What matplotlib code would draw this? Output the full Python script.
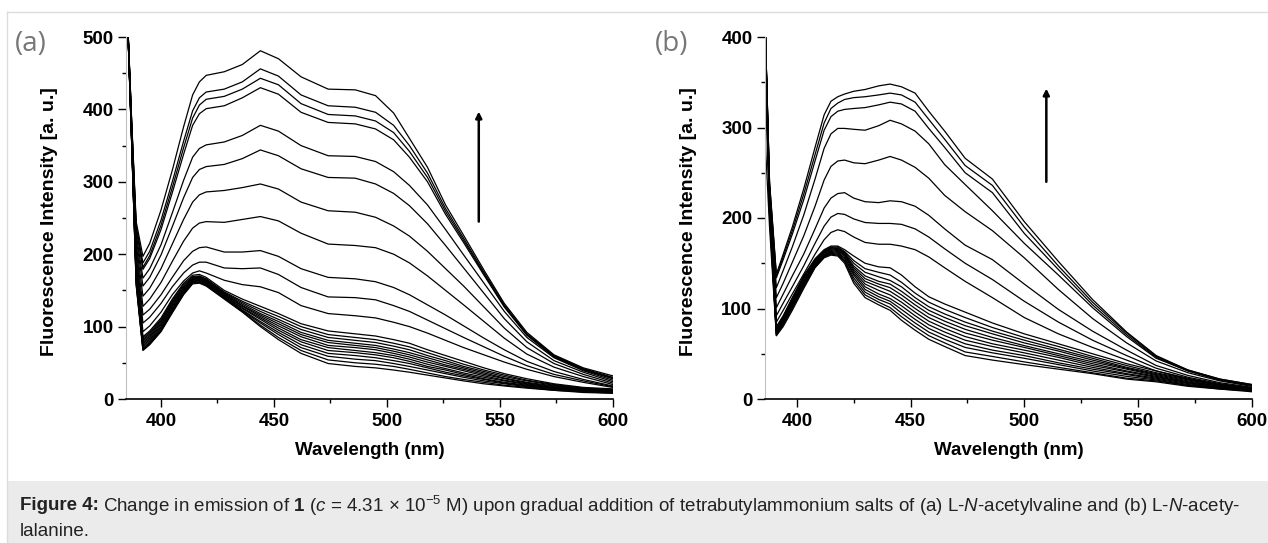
import matplotlib.pyplot as plt
from matplotlib.lines import Line2D
from matplotlib.patches import Rectangle

plt.rcParams['font.family'] = ['Liberation Sans', 'DejaVu Sans']
plt.rcParams['mathtext.fontset'] = 'custom'
plt.rcParams['mathtext.rm'] = 'Liberation Sans'
plt.rcParams['mathtext.it'] = 'Liberation Sans:italic'
plt.rcParams['mathtext.bf'] = 'Liberation Sans:bold'

# panel (a): L-N-acetylvaline
wl_a = [385, 387, 389, 392, 395, 400, 405, 410, 414, 417, 420, 428, 436, 444, 452,
        462, 474, 486, 495, 503, 510, 518, 526, 534, 543, 552, 562, 574, 587, 600]
a_upper = [
    [540, 385, 245, 197, 215, 261, 316, 376, 420, 438, 447, 452, 462, 481, 470, 445, 428, 427, 419, 395, 360, 320, 268, 226, 178, 132, 92, 61, 43, 32],
    [540, 383, 240, 188, 204, 247, 300, 356, 398, 416, 424, 428, 438, 456, 446, 420, 405, 403, 396, 378, 350, 312, 263, 222, 175, 130, 90, 60, 42, 30],
    [540, 382, 237, 182, 198, 240, 292, 347, 388, 406, 414, 418, 428, 443, 434, 408, 393, 391, 384, 368, 342, 306, 259, 219, 173, 128, 89, 59, 41, 29],
    [540, 381, 235, 179, 194, 234, 285, 338, 378, 394, 401, 405, 416, 430, 421, 396, 382, 380, 373, 358, 334, 300, 255, 216, 171, 127, 88, 58, 40, 28],
    [540, 378, 228, 167, 180, 213, 257, 302, 334, 346, 351, 355, 364, 378, 370, 350, 336, 335, 328, 314, 295, 268, 234, 199, 160, 121, 85, 57, 39, 26],
    [540, 376, 222, 156, 168, 199, 238, 278, 306, 317, 321, 324, 332, 344, 336, 318, 306, 305, 297, 284, 267, 242, 212, 181, 146, 111, 79, 53, 37, 24],
    [540, 374, 215, 142, 153, 180, 214, 248, 272, 282, 286, 288, 292, 297, 290, 272, 260, 258, 251, 239, 225, 204, 180, 156, 127, 98, 71, 49, 34, 22],
    [540, 372, 208, 128, 138, 161, 190, 218, 236, 243, 245, 244, 248, 252, 246, 229, 214, 212, 209, 200, 188, 170, 150, 130, 107, 84, 62, 44, 31, 20],
    [540, 370, 200, 116, 124, 144, 168, 191, 204, 209, 210, 203, 203, 205, 197, 180, 168, 166, 162, 154, 144, 130, 116, 101, 84, 68, 52, 38, 27, 18],
    [540, 368, 193, 105, 113, 132, 155, 174, 185, 189, 189, 181, 180, 181, 172, 154, 141, 140, 137, 129, 121, 109, 97, 85, 72, 59, 46, 34, 25, 17],
    [540, 366, 186, 93, 101, 120, 144, 163, 174, 177, 174, 164, 158, 155, 147, 129, 118, 115, 112, 106, 100, 91, 81, 71, 61, 51, 41, 31, 23, 16],
]
a_lower = [
    [540, 364, 180, 86, 94, 112, 138, 160, 171, 172, 168, 150, 138, 128, 118, 104, 94, 90, 87, 82, 77, 68, 60, 52, 43, 35, 28, 21, 16, 14],
    [540, 363, 177, 84, 92, 110, 136, 158, 169, 170, 166, 148, 135, 124, 114, 100, 89, 85, 82, 77, 72, 64, 56, 48, 40, 33, 26, 20, 15, 13],
    [540, 362, 175, 82, 90, 108, 134, 156, 168, 169, 165, 147, 133, 121, 110, 96, 85, 81, 78, 73, 68, 60, 53, 45, 38, 31, 25, 19, 14, 12],
    [540, 361, 173, 80, 88, 106, 132, 154, 167, 168, 164, 146, 131, 118, 107, 92, 81, 77, 74, 69, 64, 57, 50, 43, 36, 29, 23, 18, 14, 12],
    [540, 360, 171, 78, 86, 104, 130, 153, 166, 167, 163, 145, 129, 116, 104, 89, 78, 74, 71, 66, 61, 54, 47, 41, 34, 28, 22, 17, 13, 11],
    [540, 359, 169, 76, 84, 102, 128, 151, 165, 166, 162, 144, 128, 114, 101, 86, 74, 71, 68, 63, 58, 51, 45, 39, 32, 26, 21, 16, 13, 11],
    [540, 358, 167, 74, 82, 100, 126, 150, 164, 165, 161, 143, 126, 112, 98, 82, 71, 67, 64, 60, 55, 48, 42, 36, 30, 25, 20, 15, 12, 10],
    [540, 357, 165, 72, 80, 98, 124, 148, 163, 164, 160, 142, 125, 110, 95, 79, 67, 64, 61, 57, 52, 45, 40, 34, 28, 23, 19, 15, 12, 10],
    [540, 356, 163, 70, 78, 96, 122, 147, 162, 163, 159, 141, 123, 107, 92, 75, 63, 60, 57, 53, 49, 43, 37, 32, 27, 22, 18, 14, 11, 9],
    [540, 355, 161, 69, 77, 95, 121, 146, 161, 162, 158, 140, 122, 105, 89, 71, 59, 55, 53, 49, 45, 40, 35, 30, 25, 21, 17, 13, 11, 9],
    [540, 354, 159, 68, 76, 94, 120, 145, 160, 161, 157, 139, 121, 102, 85, 67, 54, 50, 48, 45, 41, 36, 31, 27, 23, 19, 16, 12, 10, 8],
    [540, 353, 157, 67, 75, 93, 119, 144, 159, 160, 156, 138, 120, 100, 82, 63, 49, 45, 43, 40, 37, 33, 29, 25, 21, 18, 15, 12, 9, 8],
]

# panel (b): L-N-acetylalanine
wl_b = [386, 388, 391, 394, 398, 403, 408, 412, 415, 418, 421, 425, 430, 436, 441,
        446, 452, 458, 465, 474, 486, 500, 515, 530, 545, 558, 572, 586, 600]
b_upper = [
    [420, 240, 138, 160, 190, 232, 278, 314, 329, 334, 337, 340, 342, 346, 348, 345, 338, 318, 296, 266, 243, 196, 152, 110, 74, 48, 32, 22, 16],
    [420, 238, 136, 157, 186, 226, 270, 305, 321, 327, 331, 333, 334, 336, 338, 336, 328, 309, 287, 258, 236, 190, 147, 107, 73, 47, 32, 22, 16],
    [420, 236, 134, 154, 182, 220, 263, 297, 312, 318, 320, 321, 322, 325, 328, 326, 318, 299, 278, 250, 228, 183, 143, 104, 71, 46, 31, 21, 15],
    [420, 234, 123, 142, 168, 203, 243, 277, 293, 299, 299, 298, 297, 302, 308, 304, 296, 282, 259, 237, 208, 172, 137, 101, 69, 45, 31, 21, 15],
    [420, 230, 112, 128, 151, 180, 213, 242, 257, 263, 264, 261, 260, 264, 268, 264, 256, 244, 225, 207, 186, 156, 121, 89, 62, 42, 29, 20, 14],
    [420, 226, 101, 116, 136, 160, 188, 211, 222, 227, 228, 222, 218, 217, 219, 218, 213, 203, 188, 170, 154, 127, 99, 75, 54, 37, 26, 18, 13],
    [420, 223, 92, 106, 124, 147, 172, 191, 201, 205, 204, 199, 195, 194, 194, 193, 188, 179, 166, 150, 132, 108, 85, 65, 48, 34, 24, 17, 12],
    [420, 220, 85, 98, 116, 138, 160, 176, 184, 187, 185, 179, 173, 171, 171, 169, 165, 157, 145, 130, 112, 90, 72, 57, 43, 31, 22, 16, 12],
]
b_lower = [
    [420, 215, 80, 92, 112, 136, 155, 165, 169, 169, 165, 158, 150, 146, 145, 137, 124, 113, 105, 96, 84, 72, 61, 50, 39, 31, 23, 16, 12],
    [420, 214, 79, 91, 111, 135, 154, 164, 168, 168, 163, 153, 144, 140, 137, 129, 117, 107, 99, 90, 79, 68, 58, 47, 37, 29, 22, 15, 12],
    [420, 213, 78, 90, 110, 134, 153, 163, 167, 167, 162, 150, 140, 135, 131, 124, 112, 102, 94, 85, 75, 65, 55, 45, 35, 28, 21, 15, 11],
    [420, 212, 77, 89, 109, 133, 152, 162, 167, 166, 161, 147, 136, 130, 127, 119, 108, 98, 90, 81, 72, 62, 53, 43, 34, 27, 20, 14, 11],
    [420, 211, 76, 88, 107, 131, 151, 161, 166, 165, 160, 145, 133, 127, 123, 115, 104, 94, 86, 77, 68, 59, 50, 41, 33, 26, 19, 14, 11],
    [350, 210, 75, 87, 106, 130, 150, 160, 165, 164, 159, 143, 130, 124, 119, 111, 100, 90, 82, 73, 65, 57, 48, 39, 31, 25, 18, 13, 10],
    [420, 209, 74, 86, 105, 129, 149, 159, 164, 163, 158, 141, 127, 120, 115, 107, 96, 86, 78, 69, 61, 54, 46, 37, 30, 24, 18, 13, 10],
    [420, 208, 73, 85, 104, 128, 148, 158, 163, 162, 156, 139, 124, 116, 111, 103, 92, 82, 74, 65, 58, 51, 43, 35, 28, 23, 17, 12, 10],
    [420, 206, 72, 84, 103, 126, 147, 158, 162, 161, 155, 137, 121, 113, 108, 99, 88, 78, 70, 61, 54, 48, 40, 33, 27, 22, 16, 12, 9],
    [420, 204, 71, 83, 101, 125, 146, 157, 161, 160, 153, 134, 118, 110, 105, 95, 84, 74, 66, 57, 51, 45, 38, 31, 25, 21, 15, 12, 9],
    [420, 202, 70, 82, 100, 124, 146, 157, 160, 159, 152, 131, 115, 107, 101, 91, 80, 70, 62, 52, 47, 41, 35, 29, 23, 20, 15, 11, 9],
    [290, 190, 70, 80, 98, 122, 145, 156, 159, 158, 150, 128, 112, 104, 98, 87, 76, 66, 58, 48, 43, 38, 33, 28, 22, 19, 14, 11, 8],
]

x_ticks = [400, 450, 500, 550, 600]
a_yticks = [0, 100, 200, 300, 400, 500]
b_yticks = [0, 100, 200, 300, 400]

W, H = 1268, 543
fig = plt.figure(figsize=(W / 100, H / 100), dpi=100)

# caption box and page frame
fig.patches.append(Rectangle((7 / W, 0), 1, 62 / H, transform=fig.transFigure,
                             facecolor='#ebebeb', edgecolor='none', zorder=0))
fig.lines.append(Line2D([7 / W, 1], [1 - 12 / H] * 2, transform=fig.transFigure,
                        color='#dcdcdc', lw=1))
fig.lines.append(Line2D([7 / W] * 2, [0, 1 - 12 / H], transform=fig.transFigure,
                        color='#dcdcdc', lw=1))


def draw_panel(rect, wl, upper, lower, xmin, yticks, arrow_x, arrow_y0, arrow_y1):
    ax = fig.add_axes(rect)
    for curve in upper + lower:
        ax.plot(wl, curve, color='black', lw=0.9)
    ax.set_xlim(xmin, 600)
    ax.set_ylim(0, yticks[-1])
    ax.set_xticks(x_ticks)
    ax.set_xticklabels([str(t) for t in x_ticks], fontweight='bold', fontsize=13.5)
    ax.set_yticks(yticks)
    ax.set_yticklabels([str(t) for t in yticks], fontweight='bold', fontsize=13.5)
    ax.set_xticks([425, 475, 525, 575], minor=True)
    ax.set_yticks([t + 50 for t in yticks[:-1]], minor=True)
    ax.tick_params(which='major', direction='out', length=6, width=1)
    ax.tick_params(which='minor', direction='out', length=3, width=1)
    ax.tick_params(axis='x', which='major', pad=4)
    ax.tick_params(axis='y', which='major', pad=3)
    ax.spines['top'].set_visible(False)
    ax.spines['right'].set_visible(False)
    ax.spines['left'].set_color('#c0c0c0')
    ax.spines['left'].set_linewidth(0.8)
    ax.spines['bottom'].set_linewidth(1.2)
    ax.set_xlabel('Wavelength (nm)', fontweight='bold', fontsize=13.5)
    ax.xaxis.set_label_coords(0.5, -0.12)
    ax.set_ylabel('Fluorescence Intensity [a. u.]', fontweight='bold', fontsize=14)
    ax.yaxis.set_label_coords(-0.14, 0.49)
    ax.annotate('', xy=(arrow_x, arrow_y1), xytext=(arrow_x, arrow_y0),
                arrowprops=dict(arrowstyle='-|>', lw=1.8, color='black',
                                mutation_scale=9, shrinkA=0, shrinkB=0))
    return ax


bottom = 1 - 399 / H
height = 362 / H
draw_panel([126 / W, bottom, 486.7 / W, height], wl_a, a_upper, a_lower,
           384.5, a_yticks, 540.7, 245, 397)
draw_panel([765 / W, bottom, 486.7 / W, height], wl_b, b_upper, b_lower,
           386, b_yticks, 509.7, 240, 343)

for lbl, px in [('(a)', 15), ('(b)', 655)]:
    fig.text(px / W, 1 - 44 / H, lbl, fontsize=20, color='#777777',
             family=['Open Sans', 'DejaVu Sans'], va='center', ha='left')

# caption: bold lead-in, then the rest placed right after it
cap_y1 = 1 - 506 / H
cap_y2 = 1 - 531 / H
lead = fig.text(20 / W, cap_y1, 'Figure 4:', fontsize=13.5, fontweight='bold',
                va='center', ha='left', color='#222222')
renderer = fig.canvas.get_renderer()
lead_end = lead.get_window_extent(renderer).x1
cap1 = (r'Change in emission of $\mathbf{1}$ ($\mathit{c}$ = 4.31 × 10$^{-5}$ M) '
        r'upon gradual addition of tetrabutylammonium salts of (a) L-$\mathit{N}$-acetylvaline '
        r'and (b) L-$\mathit{N}$-acety-')
fig.text((lead_end + 4) / W, cap_y1, cap1, fontsize=13.5, va='center', ha='left', color='#222222')
fig.text(20 / W, cap_y2, 'lalanine.', fontsize=13.5, va='center', ha='left', color='#222222')

fig.savefig('out.png', dpi=100)
